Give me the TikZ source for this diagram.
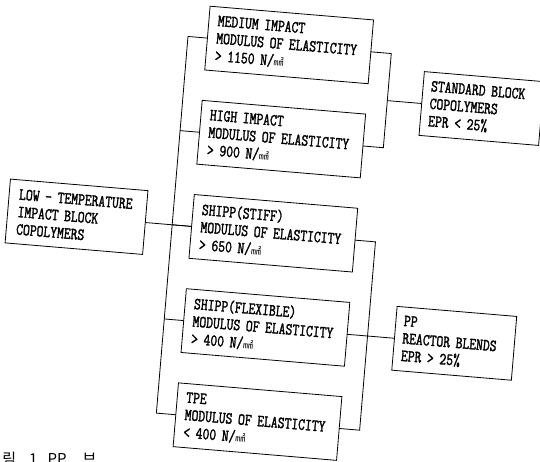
\documentclass[tikz,border=0pt]{standalone}
\usepackage{fontspec}
\newfontfamily\scanfont{Latin Modern Mono}[FakeStretch=0.78, FakeBold=1.6]
\newfontfamily\cjk{Noto Sans CJK KR}
\usetikzlibrary{positioning}
\newcommand{\Nmm}{N/{\cjk\fontsize{10}{10}\selectfont ㎟}}

\begin{document}
\begin{tikzpicture}[x=1pt,y=1pt,line width=.8pt,
	grade/.style={
		draw, align=left, anchor=center, outer sep=0pt,
		minimum width=164pt, minimum height=64pt, text width=146pt,
		inner xsep=9pt, inner ysep=0pt,
		font=\scanfont\fontsize{17}{17.5}\selectfont
	},
	group/.style={grade, minimum width=120pt, text width=104pt, inner xsep=8pt}
]
\useasboundingbox (0,0) rectangle (540,-462);
\begin{scope}[rotate around={-4.8:(270,-231)}, transform shape]
\node[grade] (medium) at (273.5,-44) {MEDIUM IMPACT\\MODULUS OF ELASTICITY\\> 1150 \Nmm};
\node[grade] (high) at (273.5,-138.5) {HIGH IMPACT\\MODULUS OF ELASTICITY\\> 900 \Nmm};
\node[grade] (stiff) at (273.5,-233) {SHIPP(STIFF)\\MODULUS OF ELASTICITY\\> 650 \Nmm};
\node[grade] (flex) at (273.5,-327.5) {SHIPP(FLEXIBLE)\\MODULUS OF ELASTICITY\\> 400 \Nmm};
\node[grade] (tpe) at (273.5,-422) {TPE\\MODULUS OF ELASTICITY\\< 400 \Nmm};

\node[group, minimum width=138pt, text width=118pt, inner xsep=10pt] (low) at (76,-233)
	{LOW - TEMPERATURE\\IMPACT BLOCK\\COPOLYMERS};
\node[group] (standard) at (470.5,-91.25) {STANDARD BLOCK\\COPOLYMERS\\EPR < 25\%};
\node[group] (pp) at (463,-327.5) {PP\\REACTOR BLENDS\\EPR > 25\%};

% left bracket
\foreach \n/\y in {medium/44,high/138.5,stiff/233,flex/327.5,tpe/422} {
	\coordinate (l-\n) at (172,-\y);
	\draw (\n.west) -- (l-\n);
}
\draw (l-medium) -- (l-tpe);
\draw (low.east) -- (stiff.west);

% right brackets
\foreach \n/\y in {medium/44,high/138.5,stiff/233,tpe/422}
	\coordinate (r-\n) at (376,-\y);
\coordinate (r-upper) at (376,-91.25);
\draw (medium.east) -- (r-medium) -- (r-high) -- (high.east);
\draw (r-upper) -- (standard.west);
\draw (stiff.east) -- (r-stiff) -- (r-tpe) -- (tpe.east);
\draw (flex.east) -- (pp.west);
\end{scope}

\node[anchor=base west, inner sep=0pt, font=\cjk\fontsize{15}{15}\selectfont] (caption)
	at (2,-464) {림\hspace{13pt}1.\hspace{6pt}PP\hspace{16pt}브};
\end{tikzpicture}
\end{document}
